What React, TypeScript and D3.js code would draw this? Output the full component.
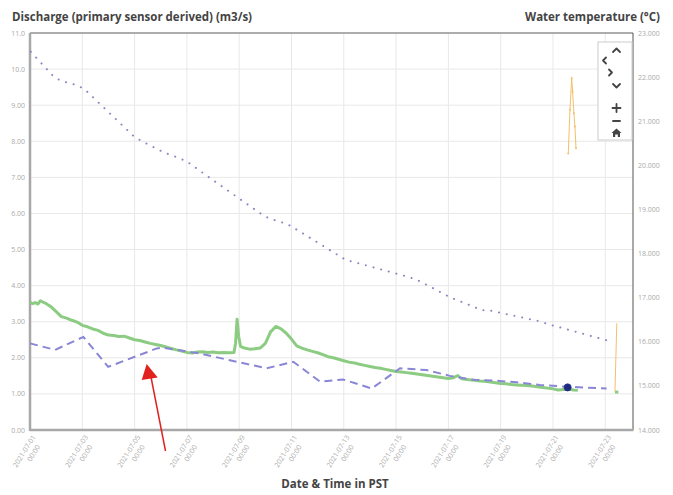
import React from "react";
import * as d3 from "d3";

// ---------- DATA ----------
const xTickDays = [0, 2, 4, 6, 8, 10, 12, 14, 16, 18, 20, 22];
const leftTicks = [0, 1, 2, 3, 4, 5, 6, 7, 8, 9, 10, 11];
const rightTicks = [14, 15, 16, 17, 18, 19, 20, 21, 22, 23];

// Discharge (primary sensor derived), days since 2021-07-01 00:00
const dischargeDays = [
  0, 0.1, 0.2, 0.3, 0.4, 0.5, 0.6, 0.7, 0.8, 1.0, 1.2, 1.4, 1.6, 1.8, 2.0, 2.2, 2.4, 2.6, 2.8, 3.0,
  3.2, 3.4, 3.6, 3.8, 4.0, 4.2, 4.4, 4.6, 4.8, 5.0, 5.2, 5.4, 5.6, 5.8, 6.0, 6.2, 6.4, 6.6, 6.8, 7.0,
  7.2, 7.4, 7.6, 7.8, 7.86, 7.92, 7.98, 8.05, 8.2, 8.4, 8.6, 8.8, 9.0, 9.2, 9.4, 9.6, 9.8, 10.0, 10.2,
  10.4, 10.6, 10.8, 11.0, 11.2, 11.4, 11.6, 11.8, 12.0, 12.2, 12.4, 12.6, 12.8, 13.0, 13.2, 13.4, 13.6,
  13.8, 14.0, 14.2, 14.4, 14.6, 14.8, 15.0, 15.2, 15.4, 15.6, 15.8, 16.0, 16.2, 16.36, 16.5, 16.8, 17.0,
  17.2, 17.4, 17.6, 17.8, 18.0, 18.2, 18.4, 18.6, 18.8, 19.0, 19.2, 19.4, 19.6, 19.8, 20.0, 20.2, 20.4,
  20.6, 20.8, 20.95,
];
const dischargeValues = [
  3.55, 3.5, 3.53, 3.49, 3.58, 3.54, 3.51, 3.46, 3.42, 3.28, 3.14, 3.1, 3.04, 2.99, 2.9, 2.86, 2.8, 2.76, 2.68, 2.63,
  2.62, 2.59, 2.6, 2.55, 2.5, 2.48, 2.44, 2.4, 2.37, 2.34, 2.3, 2.26, 2.22, 2.19, 2.15, 2.13, 2.16, 2.17, 2.15, 2.16,
  2.14, 2.15, 2.14, 2.15, 2.4, 3.07, 2.6, 2.32, 2.27, 2.24, 2.25, 2.27, 2.4, 2.72, 2.87, 2.8, 2.68, 2.52, 2.33,
  2.27, 2.22, 2.18, 2.14, 2.09, 2.03, 2.0, 1.96, 1.92, 1.88, 1.86, 1.82, 1.79, 1.76, 1.73, 1.71, 1.68,
  1.65, 1.62, 1.61, 1.59, 1.57, 1.55, 1.53, 1.51, 1.49, 1.47, 1.45, 1.43, 1.45, 1.51, 1.42, 1.39, 1.38,
  1.36, 1.35, 1.33, 1.31, 1.29, 1.28, 1.26, 1.25, 1.24, 1.23, 1.22, 1.2, 1.18, 1.16, 1.14, 1.11, 1.12,
  1.13, 1.11, 1.1,
];
const dischargeTailDays = [22.37, 22.5];
const dischargeTailValues = [1.05, 1.05];

// Dashed discharge series
const dashedDays = [0, 0.96, 2.04, 2.99, 4.85, 5.1, 6.5, 7.9, 9.05, 10.07, 11.09, 11.97, 13.07, 14.15, 15.17, 16.06, 16.95, 17.97, 18.61, 19.5, 20.52, 22.05];
const dashedValues = [2.4, 2.22, 2.58, 1.75, 2.26, 2.28, 2.12, 1.89, 1.71, 1.89, 1.34, 1.4, 1.15, 1.71, 1.66, 1.5, 1.39, 1.36, 1.32, 1.25, 1.2, 1.15];

// Dotted series
const dottedDays = [0.03, 0.92, 1.2, 1.81, 2.09, 3.98, 4.26, 5.12, 5.72, 6.02, 6.81, 8.95, 9.24, 9.56, 9.88, 10.43, 12.08, 12.4, 14.28, 14.6, 14.91, 16.06, 16.95, 17.27, 17.59, 19.5, 19.82, 22.03];
const dottedValues = [10.48, 9.78, 9.67, 9.55, 9.44, 8.13, 8.01, 7.69, 7.53, 7.43, 7.02, 5.93, 5.84, 5.77, 5.69, 5.45, 4.71, 4.65, 4.28, 4.21, 4.12, 3.68, 3.42, 3.32, 3.31, 3.01, 2.93, 2.49];

// Water temperature (right axis)
const tempDays1 = [20.585, 20.65, 20.715, 20.75, 20.8, 20.84, 20.88];
const tempValues1 = [20.27, 21.26, 21.98, 21.67, 21.18, 20.88, 20.39];
const tempDays2 = [22.44, 22.37];
const tempValues2 = [16.42, 14.87];

// Highlighted point
const markerDay = [20.56];
const markerValue = [1.18];

// ---------- LAYOUT ----------
const W = 673;
const H = 495;
const L = 30, R = 633, T = 33, B = 430;
const start = Date.UTC(2021, 6, 1);
const toDate = (d: number) => new Date(start + d * 864e5);

const x = d3.scaleUtc().domain([toDate(0), toDate(23.06)]).range([L, R]);
const yL = d3.scaleLinear().domain([0, 11]).range([B, T]);
const yR = d3.scaleLinear().domain([14, 23]).range([B, T]);

const lineL = (days: number[], vals: number[]) =>
  d3.line<number>().x((_, i) => x(toDate(days[i]))).y((v) => yL(v))(vals) || "";
const lineR = (days: number[], vals: number[]) =>
  d3.line<number>().x((_, i) => x(toDate(days[i]))).y((v) => yR(v))(vals) || "";

const fmtDate = d3.utcFormat("%Y-%m-%d");
const fmtTime = d3.utcFormat("%H:%M");
const fmtLeft = (v: number) => (v >= 10 ? v.toFixed(1) : v.toFixed(2));
const fmtRight = (v: number) => v.toFixed(3);

const FONT = "'Open Sans', 'DejaVu Sans', sans-serif";

export default function App() {
  return (
    <svg width={W} height={H} style={{ position: "absolute", left: 0, top: 0, background: "#fff" }} fontFamily={FONT}>
      <rect x={0} y={0} width={W} height={H} fill="#fff" />
      {/* grid */}
      {leftTicks.map((t) => (
        <line key={"h" + t} x1={L} x2={R} y1={yL(t)} y2={yL(t)} stroke="#e8e8e8" strokeWidth={1} />
      ))}
      {xTickDays.map((d) => (
        <line key={"v" + d} x1={x(toDate(d))} x2={x(toDate(d))} y1={T} y2={B} stroke="#e8e8e8" strokeWidth={1} />
      ))}
      {/* frame */}
      <line x1={L} x2={R} y1={T} y2={T} stroke="#666" strokeWidth={1} />
      <line x1={R} x2={R} y1={T} y2={B} stroke="#555" strokeWidth={1} />
      <line x1={L} x2={L} y1={T} y2={B + 1} stroke="#a8a8a8" strokeWidth={2.5} />
      <line x1={L} x2={R + 0.5} y1={B} y2={B} stroke="#a8a8a8" strokeWidth={2.5} />

      {/* left ticks */}
      {leftTicks.map((t) => (
        <text key={"lt" + t} x={L - 5} y={yL(t) + 2.5} fontSize={7} fill="#aaa" textAnchor="end">
          {fmtLeft(t)}
        </text>
      ))}
      {/* right ticks */}
      {rightTicks.map((t) => (
        <text key={"rt" + t} x={R + 5} y={yR(t) + 2.5} fontSize={7} fill="#aaa" textAnchor="start">
          {fmtRight(t)}
        </text>
      ))}
      {/* x ticks */}
      {xTickDays.map((d) => {
        const px = x(toDate(d));
        return (
          <g key={"xt" + d} transform={`translate(${px + 6},${B + 7}) rotate(-58)`}>
            <text x={0} y={0} fontSize={7} fill="#aaa" textAnchor="end">
              {fmtDate(toDate(d))}
            </text>
            <text x={-6} y={9} fontSize={7} fill="#aaa" textAnchor="end">
              {fmtTime(toDate(d))}
            </text>
          </g>
        );
      })}

      {/* series */}
      <path d={lineL(dottedDays, dottedValues)} fill="none" stroke="#8a87c2" strokeWidth={2} strokeDasharray="0.1 7.8" strokeLinecap="round" />
      <path d={lineL(dischargeDays, dischargeValues)} fill="none" stroke="#8ccc82" strokeWidth={3} strokeLinejoin="round" />
      <path d={lineL(dischargeTailDays, dischargeTailValues)} fill="none" stroke="#8ccc82" strokeWidth={3} />
      <path d={lineL(dashedDays, dashedValues)} fill="none" stroke="#8a86d6" strokeWidth={2} strokeDasharray="8 5" />
      <path d={lineR(tempDays1, tempValues1)} fill="none" stroke="#f3c06a" strokeWidth={1} />
      {tempDays1.map((d, i) => (
        <circle key={"tp" + i} cx={x(toDate(d))} cy={yR(tempValues1[i])} r={1} fill="#f3c06a" />
      ))}
      <path d={lineR(tempDays2, tempValues2)} fill="none" stroke="#f3c06a" strokeWidth={1} />
      {markerDay.map((d, i) => (
        <circle key={"mk" + i} cx={x(toDate(d))} cy={yL(markerValue[i])} r={3.6} fill="#1f2a7a" stroke="#2b3a9a" strokeWidth={0.8} />
      ))}

      {/* navigation control */}
      <rect x={598} y={42} width={34} height={98} fill="#fff" stroke="#ccc" strokeWidth={1} />
      <g stroke="#444" strokeWidth={1.8} fill="none" strokeLinecap="round" strokeLinejoin="round">
        <path d="M613,52 L616.5,48.5 L620,52" />
        <path d="M606,57.5 L603,60.5 L606,63.5" />
        <path d="M609,69.5 L612,72.5 L609,75.5" />
        <path d="M613,84 L616.5,87.5 L620,84" />
        <path d="M612.5,108 L620.5,108 M616.5,104 L616.5,112" />
        <path d="M613,121 L620,121" />
      </g>
      <path d="M616.5,128.5 L621.5,133 L620,133 L620,137 L617.8,137 L617.8,134.5 L615.2,134.5 L615.2,137 L613,137 L613,133 L611.5,133 Z" fill="#444" />

      {/* titles */}
      <text x={12} y={21} fontSize={11.5} fontWeight="bold" fill="#444" textLength={240} lengthAdjust="spacing">
        Discharge (primary sensor derived) (m3/s)
      </text>
      <text x={660} y={21} fontSize={11.5} fontWeight="bold" fill="#444" textAnchor="end">
        Water temperature (°C)
      </text>
      <text x={335} y={488} fontSize={11.5} fontWeight="bold" fill="#444" textAnchor="middle">
        Date &amp; Time in PST
      </text>

      {/* red arrow annotation */}
      <line x1={165.5} y1={451} x2={151} y2={377} stroke="#e0231f" strokeWidth={1.5} />
      <path d="M146.7,364 L157.7,377.5 L141.7,380 Z" fill="#e0231f" />
    </svg>
  );
}
